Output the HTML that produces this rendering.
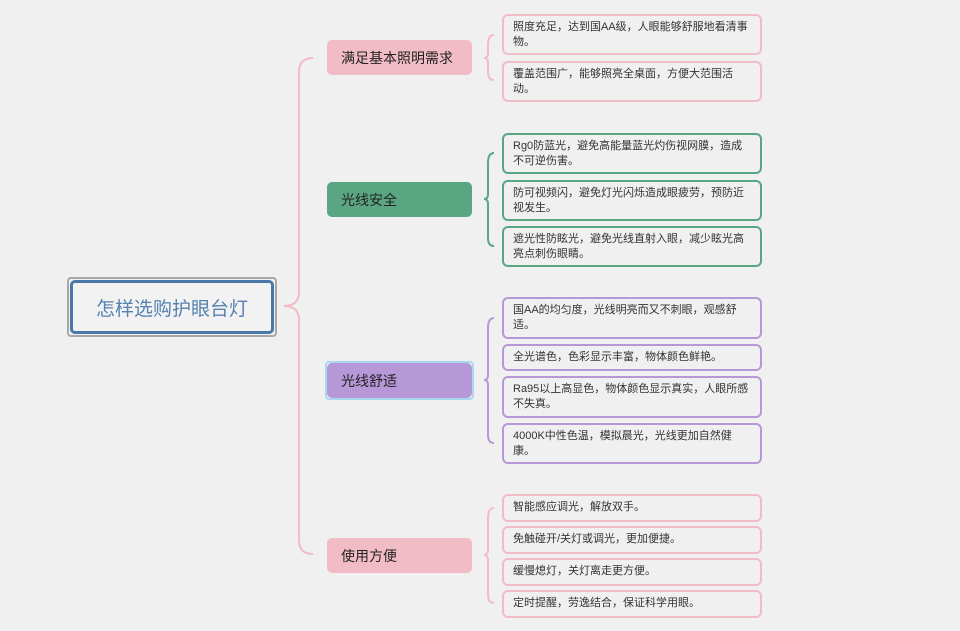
<!DOCTYPE html>
<html><head><meta charset="utf-8"><style>
body{margin:0;width:960px;height:631px;background:#f0f0f0;position:relative;overflow:hidden;font-family:"Liberation Sans","Noto Sans CJK SC",sans-serif}
.a{position:absolute;box-sizing:border-box}
.root{left:67px;top:277px;width:210px;height:60px;border:2px solid #a8a8a8;border-radius:4px}
.root div{position:absolute;left:1px;top:1px;right:1px;bottom:1px;border:3px solid #4a78a8;border-radius:5px;display:flex;align-items:center;justify-content:center;font-size:19px;color:#5582b0;background:#f2f2f2}
.b{left:327px;width:145px;height:35px;border-radius:5px;font-size:14px;color:#222;padding-left:14px;display:flex;align-items:center}
.l{left:502px;width:260px;border:2px solid;border-radius:6px;font-size:11px;line-height:15px;color:#333;padding:4px 8px 0 9px;background:#f0f0f0}
.p{border-color:#f2bcc6}.g{border-color:#5aa683}.v{border-color:#b698d8}
</style></head><body>
<svg class="a" style="left:0;top:0" width="960" height="631">
<g fill="none" stroke-width="2">
<path d="M284 306 Q299 306 299 292 L299 72 Q299 58 313 58 M284 306 Q299 306 299 320 L299 540 Q299 554 313 554" stroke="#f2bcc6"/>
<path d="M494 35 Q488 35 488 45 L488 53 Q488 58 484 58 Q488 58 488 63 L488 72 Q488 80 494 80" stroke="#f2bcc6"/>
<path d="M494 153 Q488 153 488 163 L488 194 Q488 199 484 199 Q488 199 488 204 L488 238 Q488 246 494 246" stroke="#5aa683"/>
<path d="M494 318 Q488 318 488 328 L488 375 Q488 380 484 380 Q488 380 488 385 L488 435 Q488 443 494 443" stroke="#b698d8"/>
<path d="M494 508 Q488 508 488 518 L488 550 Q488 555 484 555 Q488 555 488 560 L488 595 Q488 603 494 603" stroke="#f2bcc6"/>
</g></svg>
<div class="a root"><div>怎样选购护眼台灯</div></div>
<div class="a b" style="top:40px;background:#f2bcc6">满足基本照明需求</div>
<div class="a b" style="top:182px;background:#5aa683">光线安全</div>
<div class="a" style="left:325px;top:361px;width:149px;height:39px;border:2px solid #a8d8f0;border-radius:4px"></div>
<div class="a b" style="top:363px;background:#b698d8">光线舒适</div>
<div class="a b" style="top:538px;background:#f2bcc6">使用方便</div>
<div class="a l p" style="top:14px;height:41px">照度充足，达到国AA级，人眼能够舒服地看清事物。</div>
<div class="a l p" style="top:61px;height:41px">覆盖范围广，能够照亮全桌面，方便大范围活动。</div>
<div class="a l g" style="top:133px;height:41px">Rg0防蓝光，避免高能量蓝光灼伤视网膜，造成不可逆伤害。</div>
<div class="a l g" style="top:180px;height:41px">防可视频闪，避免灯光闪烁造成眼疲劳，预防近视发生。</div>
<div class="a l g" style="top:226px;height:41px">遮光性防眩光，避免光线直射入眼，减少眩光高亮点刺伤眼睛。</div>
<div class="a l v" style="top:297px;height:42px">国AA的均匀度，光线明亮而又不刺眼，观感舒适。</div>
<div class="a l v" style="top:344px;height:27px">全光谱色，色彩显示丰富，物体颜色鲜艳。</div>
<div class="a l v" style="top:376px;height:42px">Ra95以上高显色，物体颜色显示真实，人眼所感不失真。</div>
<div class="a l v" style="top:423px;height:41px">4000K中性色温，模拟晨光，光线更加自然健康。</div>
<div class="a l p" style="top:494px;height:28px">智能感应调光，解放双手。</div>
<div class="a l p" style="top:526px;height:28px">免触碰开/关灯或调光，更加便捷。</div>
<div class="a l p" style="top:558px;height:28px">缓慢熄灯，关灯离走更方便。</div>
<div class="a l p" style="top:590px;height:28px">定时提醒，劳逸结合，保证科学用眼。</div>
</body></html>
